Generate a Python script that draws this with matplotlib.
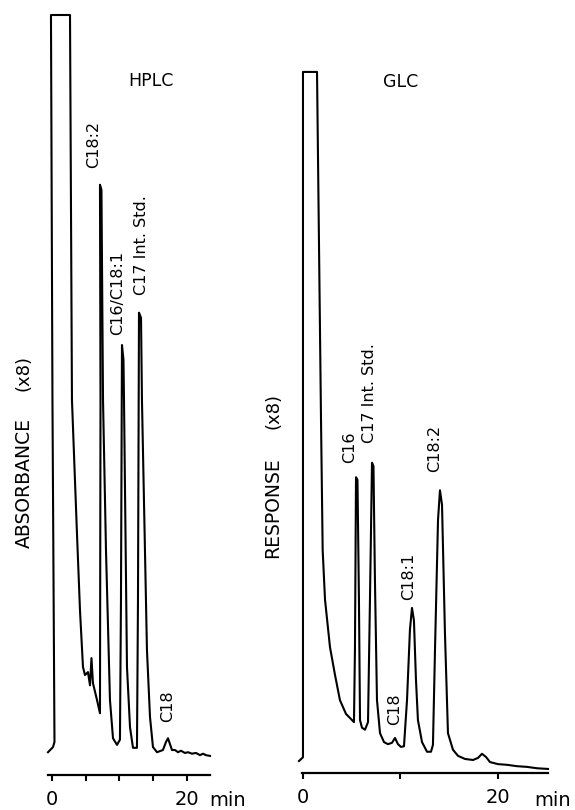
"""
plot.py
=======
HPLC vs GLC chromatograms of fatty acids (C17 internal standard).

Both traces are pen-recorder curves read off the printed figure:
time in minutes, signal in % of the (off-scale) solvent front.
"""

import matplotlib
matplotlib.use('Agg')           # headless backend
import matplotlib.pyplot as plt


# ---------------------------------------------------------------------------
# Data
# ---------------------------------------------------------------------------

hplc_time = [
    -0.59, 0.15, 0.37, 0.07, -0.15, 2.67, 2.96, 3.70, 4.15, 4.59,
    4.89, 5.33, 5.63, 5.85, 6.07, 6.67, 7.11, 7.19, 7.11, 7.33,
    7.56, 8.00, 8.59, 9.04, 9.63, 10.07, 10.22, 10.37, 10.59, 10.67,
    11.11, 11.56, 12.00, 12.59, 12.74, 12.89, 13.19, 13.33, 14.07, 14.52,
    14.96, 15.56, 16.44, 16.89, 17.19, 17.48, 17.78, 18.22, 18.67, 19.11,
    19.70, 20.15, 20.74, 21.33, 21.93, 22.37, 22.81, 23.41,
]
hplc_signal = [
    -0.3, 0.4, 1.1, 47.6, 100.0, 100.0, 47.6, 29.5, 19.0, 11.3,
    10.2, 10.6, 8.8, 12.5, 9.1, 6.8, 5.0, 47.6, 76.9, 76.2,
    47.6, 27.2, 6.8, 1.6, 0.7, 1.4, 20.4, 55.1, 53.1, 47.6,
    11.3, 3.1, 0.3, 0.3, 20.4, 59.5, 58.8, 47.6, 13.6, 4.5,
    0.4, -0.3, 0.0, 1.1, 1.6, 0.8, 0.0, 0.0, -0.3, -0.1,
    -0.4, -0.3, -0.5, -0.4, -0.7, -0.5, -0.7, -0.8,
]

glc_time = [
    -0.41, 0.00, 0.00, 1.44, 1.85, 2.02, 2.26, 2.77, 3.28, 3.79,
    4.41, 5.03, 5.23, 5.33, 5.44, 5.59, 5.74, 5.85, 6.05, 6.36,
    6.67, 6.87, 7.08, 7.23, 7.38, 7.59, 7.90, 8.31, 8.72, 9.13,
    9.44, 9.74, 10.05, 10.36, 10.67, 10.97, 11.18, 11.38, 11.59, 11.79,
    12.21, 12.72, 13.13, 13.33, 13.54, 13.85, 14.05, 14.26, 14.56, 14.87,
    15.38, 15.90, 16.62, 17.44, 17.95, 18.36, 18.77, 19.18, 20.00, 20.92,
    21.95, 22.97, 24.00, 25.13,
]
glc_signal = [
    -0.15, 0.4, 100.0, 100.0, 49.4, 30.5, 23.3, 16.4, 12.4, 8.7,
    6.7, 5.8, 5.5, 16.0, 41.1, 40.7, 23.3, 5.8, 4.7, 4.4,
    5.5, 23.3, 43.2, 42.7, 26.2, 8.7, 3.9, 2.6, 2.3, 2.5,
    3.2, 2.3, 1.9, 2.0, 8.7, 18.9, 22.1, 20.3, 11.6, 5.8,
    2.6, 1.2, 1.2, 2.2, 16.0, 34.9, 39.2, 37.1, 18.5, 3.9,
    1.5, 0.6, 0.15, 0.0, 0.3, 0.9, 0.44, -0.3, -0.6, -0.7,
    -0.9, -1.0, -1.2, -1.3,
]

# peak labels: name, retention time, signal at the foot of the label
hplc_peaks = ["C18:2", "C16/C18:1", "C17 Int. Std.", "C18"]
hplc_peak_t = [6.15, 9.70, 13.33, 17.10]
hplc_peak_s = [79.2, 56.5, 61.9, 3.8]

glc_peaks = ["C16", "C17 Int. Std.", "C18", "C18:1", "C18:2"]
glc_peak_t = [4.82, 6.87, 9.38, 10.82, 13.49]
glc_peak_s = [43.2, 46.1, 5.1, 23.3, 41.9]

hplc_ticks = [0, 5, 10, 15, 20]
glc_ticks = [0, 10, 20]


# ---------------------------------------------------------------------------
# Figure
# ---------------------------------------------------------------------------

W, H = 575, 810
plt.rcParams['font.family'] = ['DejaVu Sans']
fig = plt.figure(figsize=(W / 100, H / 100), dpi=100)


def px_axes(x0, x1, y_top, y_axis):
    """Axes placed by pixel box (y measured from the top of the image)."""
    return fig.add_axes([x0 / W, (H - y_axis) / H,
                         (x1 - x0) / W, (y_axis - y_top) / H])


def draw_trace(ax, t, s, ticks, xlim, ylim, peaks, pt, ps):
    ax.plot(t, s, color='black', lw=1.5, solid_joinstyle='round',
            clip_on=False)
    ax.set_xlim(*xlim)
    ax.set_ylim(*ylim)
    for side in ('top', 'right', 'left'):
        ax.spines[side].set_visible(False)
    ax.spines['bottom'].set_linewidth(1.6)
    ax.set_yticks([])
    ax.set_xticks(ticks)
    ax.set_xticklabels(['0'] + [''] * (len(ticks) - 2) + ['20'],
                       fontsize=14)
    ax.tick_params(axis='x', direction='out', length=4, width=1.5,
                   pad=7)
    for lbl, x, y in zip(peaks, pt, ps):
        ax.text(x, y, lbl, rotation=90, ha='center', va='bottom',
                fontsize=11.5)


# --- HPLC ---
ax1 = px_axes(48, 210, 10, 775)
draw_trace(ax1, hplc_time, hplc_signal, hplc_ticks,
           (-0.59, 23.41), (-3.40, 100.68),
           hplc_peaks, hplc_peak_t, hplc_peak_s)
ax1.text(14.67, 91.0, "HPLC", ha='center', va='center', fontsize=12.5)

# --- GLC ---
ax2 = px_axes(302, 548, 10, 773)
draw_trace(ax2, glc_time, glc_signal, glc_ticks,
           (-0.10, 25.13), (-1.89, 109.0),
           glc_peaks, glc_peak_t, glc_peak_s)
ax2.text(10.05, 98.5, "GLC", ha='center', va='center', fontsize=12.5)

# "min" units after the 20-min tick labels
for x in (228, 553):
    fig.text(x / W, 1 - 800 / H, "min", ha='center', va='center',
             fontsize=14)

# y-axis captions
fig.text(24 / W, 1 - 483 / H, "ABSORBANCE", rotation=90,
         ha='center', va='center', fontsize=13.5)
fig.text(24 / W, 1 - 373 / H, "(x8)", rotation=90,
         ha='center', va='center', fontsize=13)
fig.text(273 / W, 1 - 508 / H, "RESPONSE", rotation=90,
         ha='center', va='center', fontsize=13.5)
fig.text(273 / W, 1 - 411 / H, "(x8)", rotation=90,
         ha='center', va='center', fontsize=13)

fig.savefig("out.png", dpi=100)
plt.close(fig)
